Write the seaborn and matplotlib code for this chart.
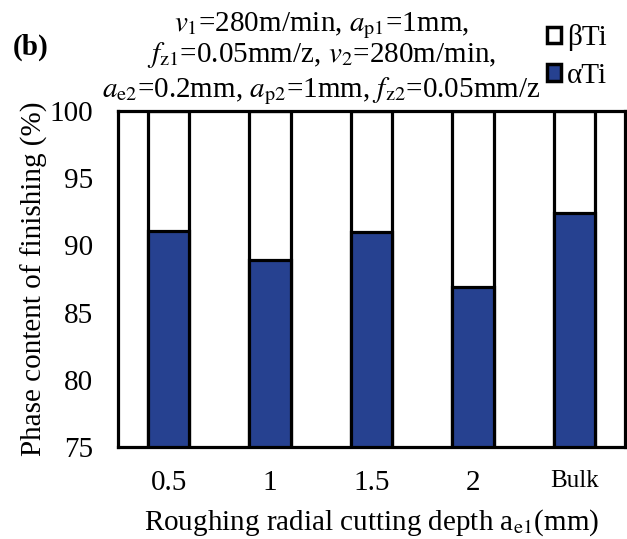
import matplotlib
matplotlib.use("Agg")
import matplotlib.pyplot as plt
import seaborn as sns
import pandas as pd
from matplotlib.patches import Patch

categories = ["0.5", "1", "1.5", "2", "Bulk"]
alpha_ti = [91.1, 88.9, 91.0, 86.9, 92.4]
beta_ti = [8.9, 11.1, 9.0, 13.1, 7.6]
y_ticks = [75, 80, 85, 90, 95, 100]

sns.set_theme(style="white")
plt.rcParams['font.family'] = ['Liberation Serif', 'DejaVu Serif']
plt.rcParams['mathtext.fontset'] = 'stix'
plt.rcParams['text.color'] = 'black'
plt.rcParams['axes.labelcolor'] = 'black'
plt.rcParams['xtick.color'] = 'black'
plt.rcParams['ytick.color'] = 'black'

df = pd.DataFrame({"cat": categories, "alpha": alpha_ti, "beta": beta_ti})
df["total"] = df["alpha"] + df["beta"]

FS = 21
fig = plt.figure(figsize=(6.27, 5.39), dpi=100)
ax = fig.add_axes([0.188, 0.171, 0.809, 0.623])

blue = "#264190"
lw = 2.3
sns.barplot(data=df, x="cat", y="total", color="white", edgecolor="black",
            linewidth=lw, width=0.41, ax=ax, saturation=1)
sns.barplot(data=df, x="cat", y="alpha", color=blue, edgecolor="black",
            linewidth=lw, width=0.41, ax=ax, saturation=1)

ax.set_ylim(75, 100)
ax.set_xlim(-0.5, 4.5)
ax.set_yticks(y_ticks)
ax.set_yticklabels([str(t) for t in y_ticks], fontsize=FS)
ax.set_xticks(range(len(categories)))
ax.set_xticklabels(categories, fontsize=FS)
for lab in ax.get_xticklabels():
    if lab.get_text() == "Bulk":
        lab.set_fontsize(18)
ax.tick_params(axis='both', length=0)
ax.tick_params(axis='y', pad=18)
ax.tick_params(axis='x', pad=17)
for s in ax.spines.values():
    s.set_visible(True)
    s.set_color("black")
    s.set_linewidth(2.3)
ax.set_xlabel(r"Roughing radial cutting depth a$_{\mathrm{e1}}$(mm)", fontsize=FS, labelpad=8)
ax.set_ylabel("Phase content of finishing (%)", fontsize=FS, labelpad=1)

tx = 0.513
fig.text(tx, 0.9425, r"$v_1$=280m/min, $a_{\mathrm{p1}}$=1mm,", fontsize=FS, ha="center", va="baseline")
fig.text(tx, 0.885, r"$f_{\mathrm{z1}}$=0.05mm/z, $v_2$=280m/min,", fontsize=FS, ha="center", va="baseline")
fig.text(tx, 0.820, r"$a_{\mathrm{e2}}$=0.2mm, $a_{\mathrm{p2}}$=1mm, $f_{\mathrm{z2}}$=0.05mm/z", fontsize=FS, ha="center", va="baseline")
fig.text(0.02, 0.913, "(b)", fontsize=FS, fontweight="bold", ha="left", va="center")

handles = [Patch(facecolor="white", edgecolor="black", linewidth=2.5, label="βTi"),
           Patch(facecolor=blue, edgecolor="black", linewidth=2.5, label="αTi")]
fig.legend(handles=handles, loc="upper left", bbox_to_anchor=(0.872, 0.955),
           frameon=False, fontsize=FS, handlelength=0.5, handleheight=0.5,
           handletextpad=0.2, labelspacing=0.4, borderaxespad=0, borderpad=0)

fig.savefig("out.png", dpi=100)
